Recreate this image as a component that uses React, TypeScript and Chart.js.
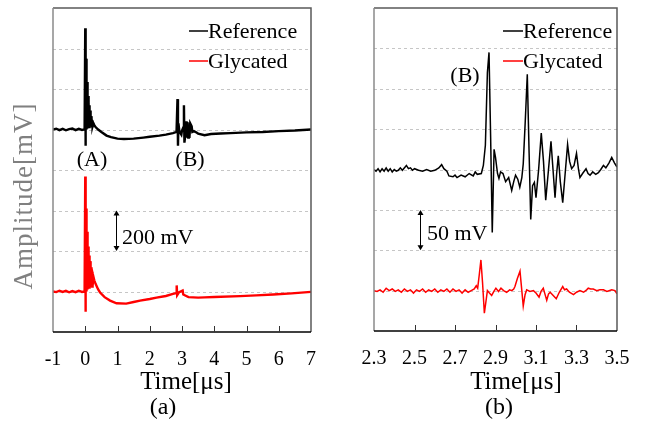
import React, { useEffect, useRef } from "react";
import { Chart, registerables } from "chart.js";

Chart.register(...registerables);

const SERIF = "'Liberation Serif', 'Times New Roman', serif";

// ---------------- Panel (a): full trace, -1..7 µs ----------------
const A_TICKS = [-1, 0, 1, 2, 3, 4, 5, 6, 7];
const A_REF_OFFSET = 800; // mV offset of the Reference trace
const A_GLY_OFFSET = 0;
const A_REF_T = [
  -1.0, -0.9, -0.8, -0.7, -0.6, -0.5, -0.4, -0.3, -0.2, -0.1, -0.02,
  0, 0.004, 0.008, 0.012, 0.016, 0.02, 0.024, 0.028, 0.032, 0.036, 0.04, 0.044, 0.048,
  0.052, 0.056, 0.06, 0.064, 0.068, 0.072, 0.076, 0.08, 0.085, 0.09, 0.095, 0.1, 0.106,
  0.112, 0.118, 0.124, 0.13, 0.137, 0.144, 0.151, 0.158, 0.166, 0.174, 0.182, 0.19, 0.2,
  0.21, 0.22, 0.235, 0.25, 0.28, 0.32,
  0.4, 0.5, 0.66, 0.8,
  1.0, 1.2, 1.5, 1.8, 2.0, 2.3, 2.5, 2.72, 2.83, 2.86, 2.875, 2.89, 2.92, 2.98, 3.0,
  3.04, 3.06, 3.075, 3.1, 3.125, 3.15, 3.175, 3.195, 3.21, 3.23, 3.255, 3.3, 3.32,
  3.37, 3.45, 3.5, 3.7, 3.9, 4.2, 4.5, 5.0, 5.5, 6.0, 6.5, 7.0,
];
const A_REF_V = [
  0, 4, -3, 3, -4, 2, 5, -3, 3, -2, 1,
  500, -80, 440, -30, 390, -10, 350, 0, 320, 5, 290, 0, 262,
  8, 235, 5, 215, 10, 198, 8, 180, 12, 165, 10, 150, 14,
  135, 12, 120, 15, 108, 14, 94, 16, 80, 15, 66, 18, 55,
  16, 45, 18, 32, 22, 12,
  0, -12, -30, -38,
  -45, -47, -45, -40, -36, -30, -25, -18, -12, 150, -80, 30, -10, -25, -5,
  10, 120, -65, -30, 40, -40, 35, -40, 15, -42, 30, 15, -12,
  -8, -15, -20, -28, -22, -20, -18, -14, -12, -8, -5, 0,
];
const A_GLY_T = [
  -1.0, -0.9, -0.8, -0.7, -0.6, -0.5, -0.4, -0.3, -0.2, -0.1, -0.02,
  0, 0.004, 0.008, 0.012, 0.016, 0.02, 0.024, 0.028, 0.032, 0.036, 0.04, 0.044, 0.048,
  0.052, 0.056, 0.06, 0.064, 0.068, 0.072, 0.076, 0.08, 0.085, 0.09, 0.095, 0.1, 0.106,
  0.112, 0.118, 0.124, 0.13, 0.137, 0.144, 0.151, 0.158, 0.166, 0.174, 0.182, 0.19, 0.2,
  0.21, 0.22, 0.235, 0.25, 0.28, 0.32,
  0.4, 0.46, 0.6, 0.77, 0.97, 1.27, 1.5, 1.7, 2.0, 2.21,
  2.5, 2.72, 2.82, 2.835, 2.85, 2.9, 3.02, 3.04, 3.1, 3.2, 3.5, 3.7, 4.0, 4.8, 5.3,
  5.83, 6.4, 6.9, 7.0,
];
const A_GLY_V = [
  0, -3, 4, -2, 3, -4, 2, -3, 4, -2, 0,
  568, -100, 500, -50, 450, -20, 410, 0, 380, 10, 350, 5, 318,
  15, 295, 10, 275, 18, 258, 15, 240, 20, 222, 18, 205, 22,
  190, 20, 178, 24, 163, 22, 150, 25, 135, 24, 120, 26, 105,
  25, 95, 26, 75, 55, 38,
  10, -5, -28, -45, -58, -60, -52, -45, -37, -30,
  -22, -12, -8, 30, -18, -5, 5, -15, -20, -28, -30, -29, -27, -23, -19,
  -15, -9, -3, -2,
];

// ---------------- Panel (b): zoom on echo (B), 2.3..3.5 µs ----------------
const B_TICKS = [2.3, 2.5, 2.7, 2.9, 3.1, 3.3, 3.5];
const B_REF_OFFSET = 150; // mV offset of the Reference trace
const B_GLY_OFFSET = 0;
const B_REF_T = [
  2.3, 2.31, 2.32, 2.33, 2.34, 2.35, 2.36, 2.37, 2.38, 2.39, 2.4, 2.41, 2.42, 2.43, 2.44,
  2.46, 2.47, 2.48, 2.49, 2.5, 2.52, 2.54, 2.56, 2.58, 2.6, 2.62, 2.634, 2.645, 2.66,
  2.67, 2.69, 2.7, 2.71, 2.73, 2.75, 2.77, 2.79, 2.8, 2.81, 2.83, 2.84, 2.85, 2.86,
  2.868, 2.876, 2.884, 2.893, 2.9, 2.91, 2.917, 2.925, 2.937, 2.95, 2.965, 2.98, 2.99,
  2.999, 3.01, 3.02, 3.03, 3.037, 3.047, 3.057, 3.066, 3.074, 3.083, 3.092, 3.1, 3.113,
  3.126, 3.137, 3.148, 3.16, 3.174, 3.184, 3.194, 3.202, 3.21, 3.22, 3.232, 3.244, 3.256,
  3.266, 3.276, 3.288, 3.3, 3.31, 3.317, 3.33, 3.347, 3.357, 3.367, 3.38, 3.395, 3.408,
  3.42, 3.433, 3.445, 3.46, 3.474, 3.488, 3.5,
];
const B_REF_V = [
  0, -2, 1, -3, 1, -2, 2, -2, 1, -3, 0, -2, -1, 2, -1,
  5, 1, 2, -1, 1, -1, -2, 0, -2, -1, 2, 6, 1, -2,
  -8, -9, -7, -10, -7, -9, -5, -8, -3, -6, -5, 5, 30, 120,
  145, 40, -78, 25, 15, -5, -11, -3, -5, -15, -10, -26, -15,
  -7, -12, -22, -10, 7, 60, 118, 20, -62, -20, -16, -35, 0,
  45, 10, -38, -5, 35, 0, -35, -5, 17, -15, -41, -5, 31,
  10, 1, 5, 20, 0, -10, -5, 1, -5, -7, -3, -6, -4,
  0, 5, 2, 8, 15, 8, 3,
];
const B_GLY_T = [
  2.3, 2.315, 2.33, 2.345, 2.36, 2.375, 2.39, 2.405, 2.42, 2.435, 2.45, 2.465, 2.48,
  2.495, 2.51, 2.525, 2.54, 2.555, 2.57, 2.585, 2.6, 2.615, 2.63, 2.645, 2.66, 2.675,
  2.69, 2.705, 2.72, 2.735, 2.75, 2.765, 2.78, 2.795, 2.805, 2.812, 2.82, 2.828, 2.836,
  2.845, 2.852, 2.86, 2.87, 2.881, 2.892, 2.902, 2.915, 2.927, 2.94, 2.955, 2.97, 2.98,
  2.99, 2.996, 3.008, 3.021, 3.03, 3.037, 3.046, 3.054, 3.07, 3.087, 3.1, 3.115, 3.125,
  3.136, 3.145, 3.153, 3.162, 3.17, 3.185, 3.2, 3.215, 3.232, 3.241, 3.251, 3.265, 3.285,
  3.3, 3.317, 3.335, 3.35, 3.358, 3.37, 3.383, 3.4, 3.415, 3.433, 3.45, 3.474, 3.49, 3.5,
];
const B_GLY_V = [
  0, -1, 1, -2, 3, 0, 2, -1, 1, -2, 2, -1, 1,
  -3, 1, -1, 2, -2, 1, -1, 2, -2, 1, -1, 2, -2,
  2, -1, 1, -3, 1, -2, 0, 2, 6, 3, 20, 38, 10,
  -28, -15, 0, -3, -6, -1, 3, -1, 3, 0, -2, 1, 0,
  2, 5, 15, 24, 0, -19, -5, 1, -1, 0, -3, -8, -1,
  3, -5, -12, -4, -2, -6, -10, -2, 5, 1, 2, -2, -5,
  -2, 0, -2, 1, 3, 2, 2, 0, 1, 1, -1, 1, 0, -4,
];

type Panel = {
  left: number;
  width: number;
  plotLeft: number;
  plotRight: number;
  plotTop: number;
  plotBottom: number;
  xMin: number;
  xMax: number;
  xTicks: number[];
  decimals: number;
  yMin: number;
  yMax: number;
  yStep: number;
  ref: { x: number; y: number }[];
  gly: { x: number; y: number }[];
  lw: number;
  legendLineX: number;
  legendTextX: number;
  labels: { text: string; x: number; y: number }[];
  bar: { x: number; y0: number; y1: number; text: string; tx: number; ty: number };
  xTitle: { x: number; y: number };
  sub: { text: string; x: number; y: number };
  yTitle: boolean;
};

const pts = (t: number[], v: number[], off: number) => t.map((x, i) => ({ x, y: v[i] + off }));

const PANELS: Panel[] = [
  {
    left: 0,
    width: 330,
    plotLeft: 53,
    plotRight: 311,
    plotTop: 8,
    plotBottom: 332,
    xMin: -1,
    xMax: 7,
    xTicks: A_TICKS,
    decimals: 0,
    yMin: -200,
    yMax: 1400,
    yStep: 200,
    ref: pts(A_REF_T, A_REF_V, A_REF_OFFSET),
    gly: pts(A_GLY_T, A_GLY_V, A_GLY_OFFSET),
    lw: 2.4,
    legendLineX: 189,
    legendTextX: 208,
    labels: [
      { text: "(A)", x: 92, y: 166 },
      { text: "(B)", x: 190, y: 166 },
    ],
    bar: { x: 0.95, y0: 200, y1: 400, text: "200 mV", tx: 122, ty: 244 },
    xTitle: { x: 186, y: 389 },
    sub: { text: "(a)", x: 163, y: 414 },
    yTitle: true,
  },
  {
    left: 330,
    width: 316,
    plotLeft: 374,
    plotRight: 617,
    plotTop: 8,
    plotBottom: 331,
    xMin: 2.3,
    xMax: 3.5,
    xTicks: B_TICKS,
    decimals: 1,
    yMin: -50,
    yMax: 350,
    yStep: 50,
    ref: pts(B_REF_T, B_REF_V, B_REF_OFFSET),
    gly: pts(B_GLY_T, B_GLY_V, B_GLY_OFFSET),
    lw: 1.5,
    legendLineX: 503,
    legendTextX: 523,
    labels: [{ text: "(B)", x: 465, y: 82 }],
    bar: { x: 2.527, y0: 50, y1: 100, text: "50 mV", tx: 427, ty: 240 },
    xTitle: { x: 516, y: 389 },
    sub: { text: "(b)", x: 499, y: 414 },
    yTitle: false,
  },
];

function decoPlugin(p: Panel) {
  const ox = p.left;
  return {
    id: "deco",
    beforeDatasetsDraw(chart: any) {
      const { ctx, chartArea: ca } = chart;
      const ys = chart.scales.y;
      ctx.save();
      ctx.strokeStyle = "#c6c6c6";
      ctx.lineWidth = 1;
      ctx.setLineDash([3, 3]);
      ys.ticks.forEach((t: any, i: number) => {
        if (i === 0 || i === ys.ticks.length - 1) return;
        const py = Math.round(ys.getPixelForValue(t.value)) + 0.5;
        ctx.beginPath();
        ctx.moveTo(ca.left, py);
        ctx.lineTo(ca.right, py);
        ctx.stroke();
      });
      ctx.restore();
    },
    afterDraw(chart: any) {
      const { ctx, chartArea: ca } = chart;
      const xs = chart.scales.x;
      const ys = chart.scales.y;
      ctx.save();
      // frame
      ctx.lineWidth = 1.5;
      ctx.strokeStyle = "#5a5a5a";
      ctx.beginPath();
      ctx.moveTo(ca.left, ca.top);
      ctx.lineTo(ca.right, ca.top);
      ctx.lineTo(ca.right, ca.bottom);
      ctx.stroke();
      ctx.strokeStyle = "#8a8a8a";
      ctx.beginPath();
      ctx.moveTo(ca.left, ca.top);
      ctx.lineTo(ca.left, ca.bottom);
      ctx.stroke();
      ctx.strokeStyle = "#000";
      ctx.beginPath();
      ctx.moveTo(ca.left, ca.bottom);
      ctx.lineTo(ca.right, ca.bottom);
      ctx.stroke();
      // inward tick marks
      ctx.lineWidth = 1;
      ctx.strokeStyle = "#333";
      xs.ticks.forEach((t: any, i: number) => {
        if (i === 0 || i === xs.ticks.length - 1) return;
        const px = Math.round(xs.getPixelForValue(t.value)) + 0.5;
        ctx.beginPath();
        ctx.moveTo(px, ca.bottom);
        ctx.lineTo(px, ca.bottom - 6);
        ctx.stroke();
      });
      // legend
      ctx.font = `22px ${SERIF}`;
      ctx.textBaseline = "alphabetic";
      ctx.textAlign = "left";
      const legend = [
        { text: "Reference", color: "#000", y: 38, ly: 31 },
        { text: "Glycated", color: "#ff0000", y: 68, ly: 61 },
      ];
      legend.forEach((l) => {
        ctx.strokeStyle = l.color;
        ctx.lineWidth = 1.5;
        ctx.beginPath();
        ctx.moveTo(p.legendLineX - ox, l.ly);
        ctx.lineTo(p.legendTextX - ox, l.ly);
        ctx.stroke();
        ctx.fillStyle = "#000";
        ctx.fillText(l.text, p.legendTextX - ox, l.y);
      });
      // peak labels
      ctx.textAlign = "center";
      p.labels.forEach((l) => ctx.fillText(l.text, l.x - ox, l.y));
      // scale bar
      const bx = Math.round(xs.getPixelForValue(p.bar.x)) + 0.5;
      const by0 = ys.getPixelForValue(p.bar.y0);
      const by1 = ys.getPixelForValue(p.bar.y1);
      ctx.strokeStyle = "#000";
      ctx.lineWidth = 1;
      ctx.beginPath();
      ctx.moveTo(bx, by1 + 3);
      ctx.lineTo(bx, by0 - 3);
      ctx.stroke();
      ctx.fillStyle = "#000";
      ctx.beginPath();
      ctx.moveTo(bx, by1);
      ctx.lineTo(bx - 3, by1 + 5);
      ctx.lineTo(bx + 3, by1 + 5);
      ctx.closePath();
      ctx.fill();
      ctx.beginPath();
      ctx.moveTo(bx, by0);
      ctx.lineTo(bx - 3, by0 - 5);
      ctx.lineTo(bx + 3, by0 - 5);
      ctx.closePath();
      ctx.fill();
      ctx.textAlign = "left";
      ctx.fillText(p.bar.text, p.bar.tx - ox, p.bar.ty);
      // axis title and panel caption
      ctx.textAlign = "center";
      ctx.font = `25px ${SERIF}`;
      ctx.fillText("Time[μs]", p.xTitle.x - ox, p.xTitle.y);
      ctx.font = `24px ${SERIF}`;
      ctx.fillText(p.sub.text, p.sub.x - ox, p.sub.y);
      if (p.yTitle) {
        ctx.save();
        ctx.translate(25, 196);
        ctx.rotate(-Math.PI / 2);
        ctx.font = `27px ${SERIF}`;
        (ctx as any).letterSpacing = "1px";
        ctx.fillStyle = "#808080";
        ctx.textBaseline = "middle";
        ctx.fillText("Amplitude[mV]", 0, 0);
        ctx.restore();
      }
      ctx.restore();
    },
  };
}

function buildChart(canvas: HTMLCanvasElement, p: Panel) {
  return new Chart(canvas, {
    type: "line",
    data: {
      datasets: [
        { label: "Reference", data: p.ref, borderColor: "#000", borderWidth: p.lw, pointRadius: 0, tension: 0 },
        { label: "Glycated", data: p.gly, borderColor: "#ff0000", borderWidth: p.lw, pointRadius: 0, tension: 0 },
      ],
    },
    options: {
      animation: false,
      responsive: false,
      devicePixelRatio: 1,
      layout: { padding: { left: 0, right: p.width - (p.plotRight - p.left), top: p.plotTop, bottom: 0 } },
      plugins: { legend: { display: false }, tooltip: { enabled: false } },
      scales: {
        x: {
          type: "linear",
          min: p.xMin,
          max: p.xMax,
          afterBuildTicks: (s: any) => {
            s.ticks = p.xTicks.map((v) => ({ value: v }));
          },
          afterFit: (s: any) => {
            s.height = 423 - p.plotBottom;
          },
          grid: { display: false },
          border: { display: false },
          ticks: {
            font: { family: SERIF, size: 20 },
            color: "#000",
            padding: 8,
            maxRotation: 0,
            autoSkip: false,
            callback: (v: any) => Number(v).toFixed(p.decimals),
          },
        },
        y: {
          type: "linear",
          min: p.yMin,
          max: p.yMax,
          ticks: { display: false, stepSize: p.yStep },
          afterFit: (s: any) => {
            s.width = p.plotLeft - p.left;
          },
          grid: { display: false },
          border: { display: false },
        },
      },
    } as any,
    plugins: [decoPlugin(p) as any],
  });
}

export default function App() {
  const aRef = useRef<HTMLCanvasElement>(null);
  const bRef = useRef<HTMLCanvasElement>(null);
  useEffect(() => {
    const charts = [buildChart(aRef.current!, PANELS[0]), buildChart(bRef.current!, PANELS[1])];
    return () => charts.forEach((c) => c.destroy());
  }, []);
  return (
    <div style={{ position: "fixed", left: 0, top: 0, width: 646, height: 423, background: "#fff" }}>
      <canvas
        ref={aRef}
        width={PANELS[0].width}
        height={423}
        style={{ position: "absolute", left: PANELS[0].left, top: 0, width: PANELS[0].width, height: 423 }}
      />
      <canvas
        ref={bRef}
        width={PANELS[1].width}
        height={423}
        style={{ position: "absolute", left: PANELS[1].left, top: 0, width: PANELS[1].width, height: 423 }}
      />
    </div>
  );
}
